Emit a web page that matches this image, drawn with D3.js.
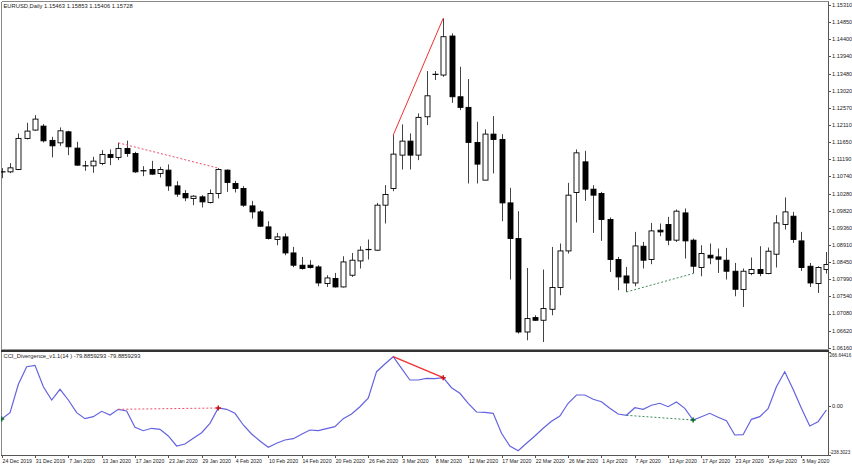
<!DOCTYPE html>
<html><head><meta charset="utf-8">
<script src="https://cdn.jsdelivr.net/npm/d3@7"></script>
<style>body{margin:0;background:#fff}svg{display:block}text{font-family:"Liberation Sans",Arial,sans-serif;fill:#222}</style>
</head><body><svg id="c" width="852" height="467"></svg>
<script>
const open = [
1.10859,1.10859,1.10923,1.11751,1.11973,1.12079,1.11698,1.11633,1.11927,1.11492,
1.11030,1.11019,1.11083,1.11324,1.11244,1.11484,1.11350,1.10897,1.10923,1.10816,
1.10905,1.10485,1.10282,1.10149,1.10192,1.10042,1.10282,1.10905,1.10549,1.10416,
1.09951,1.09791,1.09391,1.09054,1.09124,1.08696,1.08368,1.08368,1.08323,1.07879,
1.08013,1.07789,1.08101,1.08483,1.08787,1.08769,1.09970,1.10416,1.11305,1.11679,
1.11305,1.12328,1.13460,1.13441,1.14482,1.12862,1.12579,1.11644,1.10638,1.11866,
1.11724,1.10031,1.09081,1.06587,1.06972,1.06900,1.07193,1.07773,1.08750,1.10309,
1.11126,1.10397,1.10282,1.09588,1.08520,1.08082,1.07895,1.08875,1.08520,1.09303,
1.09455,1.09036,1.09764,1.09036,1.08307,1.08635,1.08590,1.08502,1.08208,1.07719,
1.08146,1.08253,1.08146,1.08662,1.09455,1.09676,1.09017,1.08341,1.07879,1.08253];
const high = [
1.10958,1.11091,1.11884,1.12167,1.12373,1.12133,1.11794,1.12045,1.11954,1.11660,
1.11153,1.11260,1.11439,1.11457,1.11633,1.11692,1.11393,1.11011,1.11153,1.10993,
1.11057,1.10611,1.10371,1.10237,1.10237,1.10389,1.10958,1.10923,1.10619,1.10477,
1.10085,1.09837,1.09543,1.09230,1.09214,1.08857,1.08590,1.08502,1.08368,1.08101,
1.08162,1.08608,1.08696,1.08875,1.09054,1.10031,1.10504,1.11839,1.12125,1.11884,
1.12418,1.13548,1.13548,1.14955,1.14554,1.13663,1.13334,1.12194,1.11991,1.12346,
1.11866,1.10432,1.09810,1.08296,1.07033,1.08253,1.08857,1.08947,1.10565,1.11457,
1.11420,1.10504,1.10325,1.09642,1.08590,1.08323,1.09257,1.08990,1.09497,1.09481,
1.09658,1.09855,1.09882,1.09081,1.08902,1.08947,1.08814,1.08830,1.08429,1.08280,
1.08574,1.08875,1.08841,1.09703,1.10176,1.09791,1.09257,1.08429,1.08341,1.08723];
const low = [
1.10691,1.10824,1.10905,1.11724,1.11954,1.11644,1.11244,1.11553,1.11305,1.11019,
1.10886,1.10832,1.11038,1.11038,1.11172,1.11260,1.10832,1.10744,1.10784,1.10710,
1.10352,1.10192,1.10077,1.09970,1.09909,1.10015,1.10149,1.10325,1.10309,1.09925,
1.09615,1.09391,1.09054,1.08902,1.08635,1.08315,1.08253,1.08280,1.07807,1.07789,
1.07773,1.07773,1.08056,1.08280,1.08520,1.08750,1.09481,1.10344,1.10923,1.10923,
1.11172,1.12106,1.13308,1.13396,1.12701,1.12507,1.10549,1.10549,1.10638,1.10816,
1.09543,1.07986,1.06544,1.06366,1.06881,1.06320,1.07033,1.07567,1.08680,1.09508,
1.10085,1.09230,1.09017,1.08189,1.07701,1.07655,1.07807,1.08280,1.08395,1.09142,
1.08902,1.08990,1.08547,1.08146,1.08074,1.08395,1.08162,1.07986,1.07540,1.07255,
1.08101,1.08074,1.08128,1.08307,1.09321,1.08963,1.08216,1.07789,1.07628,1.08146];
const close = [
1.10859,1.10966,1.11751,1.11946,1.12266,1.11687,1.11553,1.11954,1.11527,1.11038,
1.11011,1.11145,1.11324,1.11244,1.11484,1.11350,1.10859,1.10878,1.10798,1.10923,
1.10485,1.10264,1.10165,1.10210,1.10058,1.10282,1.10923,1.10576,1.10416,1.09970,
1.09791,1.09409,1.09081,1.09124,1.08696,1.08368,1.08280,1.08307,1.07895,1.08029,
1.07789,1.08456,1.08502,1.08769,1.08787,1.09970,1.10256,1.11332,1.11679,1.11305,
1.12312,1.12888,1.13460,1.14464,1.12862,1.12579,1.11644,1.11065,1.11866,1.11724,
1.10031,1.09081,1.06587,1.06945,1.06900,1.07212,1.07773,1.08750,1.10237,1.11366,
1.10397,1.10237,1.09588,1.08520,1.08056,1.07895,1.08883,1.08502,1.09284,1.09257,
1.09036,1.09810,1.09017,1.08341,1.08680,1.08563,1.08528,1.08208,1.07727,1.08208,
1.08253,1.08146,1.08742,1.09497,1.09791,1.09054,1.08307,1.07895,1.08307,1.08387];
const cci = [
-61.8,-30.9,108.3,194.6,201.4,96.5,31.3,83.8,31.3,-30.9,
-60.3,-50.5,-24.1,-42.2,-14.3,-22.6,-102.5,-119.2,-107.4,-112.3,
-145.1,-194.2,-184.4,-156.4,-129.0,-82.9,-7.9,-14.3,-33.9,-91.2,
-135.4,-169.7,-200.6,-180.9,-164.8,-158.4,-136.8,-115.7,-119.2,-109.4,
-99.6,-60.3,-37.3,-1.5,39.7,170.1,207.8,243.6,186.7,129.4,
129.4,137.7,135.8,140.6,91.6,64.2,15.2,-27.5,-29.0,-33.9,
-131.9,-194.2,-217.2,-180.9,-145.1,-107.4,-73.1,-47.1,15.2,55.8,
55.8,34.8,23.0,-9.4,-37.3,-43.7,-6.4,-14.3,5.4,15.2,
-1.5,21.5,-9.4,-66.7,-50.5,-33.9,-53.5,-70.2,-140.3,-138.8,
-63.3,-50.5,-11.3,96.5,170.1,83.8,-9.4,-96.1,-75.1,-17.7];
const priceTicks = [1.15310,1.14850,1.14400,1.13940,1.13480,1.13020,1.12570,1.12110,1.11650,1.11190,1.10740,1.10280,1.09820,1.09360,1.08910,1.08450,1.07990,1.07540,1.07080,1.06620,1.06160];
const dateLabels = ["24 Dec 2019","31 Dec 2019","7 Jan 2020","13 Jan 2020","17 Jan 2020","23 Jan 2020","29 Jan 2020","4 Feb 2020","10 Feb 2020","14 Feb 2020","20 Feb 2020","26 Feb 2020","3 Mar 2020","8 Mar 2020","12 Mar 2020","17 Mar 2020","22 Mar 2020","26 Mar 2020","1 Apr 2020","7 Apr 2020","13 Apr 2020","17 Apr 2020","23 Apr 2020","29 Apr 2020","5 May 2020"];
const dateLabelBars = [0,4,8,12,16,20,24,28,32,36,40,44,48,52,56,60,64,68,72,76,80,84,88,92,96];
const cciTicks = [266.6441,0,-238.3023];
const cciTickLabels = ["266.64416","0.00","-238.3023"];
const divFrom = [14,47,75];
const divTo = [26,53,83];
const divKind = ["bear","bear","bull"];
const divDashed = [true,false,true];

const svg = d3.select("#c");
const W=852,H=467, R=828, mainTop=2, mainBot=350, indTop=352, indBot=455;
svg.append("rect").attr("width",W).attr("height",H).attr("fill","#fff");

const n = open.length;
const x = d3.scaleLinear().domain([0,n-1]).range([1.7,826.4]);
const y = d3.scaleLinear().domain([1.06160,1.15310]).range([348,5]);
const yc = d3.scaleLinear().domain([-238.3023,266.6441]).range([indBot,indTop]);

const defs = svg.append("defs");
defs.append("clipPath").attr("id","cm").append("rect").attr("x",1).attr("y",mainTop).attr("width",R-1).attr("height",mainBot-mainTop);
defs.append("clipPath").attr("id","ci").append("rect").attr("x",1).attr("y",indTop).attr("width",R-1).attr("height",indBot-indTop);

// frames
const fr = svg.append("g").attr("shape-rendering","crispEdges");
fr.append("line").attr("x1",1.5).attr("x2",R+0.5).attr("y1",1.5).attr("y2",1.5).attr("stroke","#888");
fr.append("line").attr("x1",1.5).attr("x2",1.5).attr("y1",1.5).attr("y2",indBot).attr("stroke","#888");
fr.append("line").attr("x1",R+0.5).attr("x2",R+0.5).attr("y1",1.5).attr("y2",indBot+0.5).attr("stroke","#555");
fr.append("line").attr("x1",1).attr("x2",R+1).attr("y1",349.5).attr("y2",349.5).attr("stroke","#999");
fr.append("line").attr("x1",1).attr("x2",R+1).attr("y1",351).attr("y2",351).attr("stroke","#333").attr("stroke-width",2);
fr.append("line").attr("x1",1).attr("x2",R+1).attr("y1",indBot+0.5).attr("y2",indBot+0.5).attr("stroke","#555");

// candles
const gm = svg.append("g").attr("clip-path","url(#cm)");
const idx = d3.range(n);
const bw = 5;
gm.selectAll("line.w").data(idx).join("line")
  .attr("x1",i=>Math.round(x(i))+0.5).attr("x2",i=>Math.round(x(i))+0.5)
  .attr("y1",i=>y(high[i])).attr("y2",i=>y(low[i]))
  .attr("stroke","#444").attr("stroke-width",1);
gm.selectAll("rect.b").data(idx.filter(i=>Math.abs(y(open[i])-y(close[i]))>=1.2)).join("rect")
  .attr("x",i=>Math.round(x(i))-2).attr("width",bw)
  .attr("y",i=>Math.min(y(open[i]),y(close[i]))).attr("height",i=>Math.abs(y(open[i])-y(close[i])))
  .attr("fill",i=>close[i]>=open[i]?"#fff":"#000").attr("stroke","#000").attr("stroke-width",0.9);
gm.selectAll("line.d").data(idx.filter(i=>Math.abs(y(open[i])-y(close[i]))<1.2)).join("line")
  .attr("x1",i=>Math.round(x(i))-2.5).attr("x2",i=>Math.round(x(i))+3.5)
  .attr("y1",i=>y((open[i]+close[i])/2)).attr("y2",i=>y((open[i]+close[i])/2))
  .attr("stroke","#000").attr("stroke-width",1.2);

// divergence lines on price
divFrom.forEach((f,k)=>{
  const t=divTo[k], bear=divKind[k]==="bear";
  const pf = bear?high[f]:low[f], pt = bear?high[t]:low[t];
  const col = bear?(divDashed[k]?"#e8506a":"#f03030"):"#3c8c5a";
  gm.append("line").attr("x1",x(f)).attr("y1",y(pf)).attr("x2",x(t)).attr("y2",y(pt))
    .attr("stroke",col).attr("stroke-width",1).attr("stroke-dasharray",divDashed[k]?"2,2":null);
});

// price axis
const ga = svg.append("g");
ga.selectAll("line").data(priceTicks).join("line").attr("x1",R).attr("x2",R+3)
  .attr("y1",d=>Math.round(y(d))+0.5).attr("y2",d=>Math.round(y(d))+0.5).attr("stroke","#555");
ga.selectAll("text").data(priceTicks).join("text").attr("x",R+4).attr("y",d=>y(d)).attr("dy","0.35em")
  .attr("font-size",5.6).text(d=>d.toFixed(5));

svg.append("text").attr("x",3.5).attr("y",8.2).attr("font-size",5.8).text("EURUSD,Daily  1.15463 1.15853 1.15406 1.15728");

// CCI pane
const gi = svg.append("g").attr("clip-path","url(#ci)");
gi.append("path").datum(idx).attr("fill","none").attr("stroke","#6363e0").attr("stroke-width",1.2)
  .attr("d",d3.line().x(i=>x(i)).y(i=>yc(cci[i])));
divFrom.forEach((f,k)=>{
  const t=divTo[k], bear=divKind[k]==="bear";
  const col = bear?(divDashed[k]?"#e8506a":"#f03030"):"#3c8c5a";
  gi.append("line").attr("x1",x(f)).attr("y1",yc(cci[f])).attr("x2",x(t)).attr("y2",yc(cci[t]))
    .attr("stroke",col).attr("stroke-width",divDashed[k]?1:1.3).attr("stroke-dasharray",divDashed[k]?"2,2":null);
  const mc = bear?"#d01010":"#0a6a2a";
  const mx=x(t), my=yc(cci[t]);
  gi.append("path").attr("d",`M${mx-2.5},${my}H${mx+2.5}M${mx},${my-2.5}V${my+2.5}`).attr("stroke",mc).attr("stroke-width",1.5);
});
gi.append("path").attr("d",`M${x(0)-2.5},${yc(cci[0])}H${x(0)+2.5}M${x(0)},${yc(cci[0])-2.5}V${yc(cci[0])+2.5}`).attr("stroke","#0a6a2a").attr("stroke-width",1.5);

svg.append("text").attr("x",3.5).attr("y",357.8).attr("font-size",5.8).text("CCI_Divergence_v1.1(14 ) -79.8859293 -79.8859293");

const gca = svg.append("g");
gca.selectAll("line").data(cciTicks).join("line").attr("x1",R).attr("x2",R+3)
  .attr("y1",d=>Math.round(yc(d))+0.5).attr("y2",d=>Math.round(yc(d))+0.5).attr("stroke","#555");
gca.selectAll("text").data(cciTicks).join("text").attr("x",(d,i)=>i===1?R+4:R+1.5)
  .attr("y",(d,i)=>i===0?355:(i===2?452.5:yc(d))).attr("dy","0.35em").attr("font-size",(d,i)=>i===1?5.6:4.6)
  .text((d,i)=>cciTickLabels[i]);

// date axis
const gd = svg.append("g");
gd.selectAll("line").data(dateLabelBars).join("line")
  .attr("x1",b=>Math.round(x(b))+0.5).attr("x2",b=>Math.round(x(b))+0.5).attr("y1",indBot).attr("y2",indBot+3).attr("stroke","#555");
gd.selectAll("text").data(dateLabels).join("text")
  .attr("x",(d,i)=>x(dateLabelBars[i])+0.8).attr("y",463).attr("font-size",5.2).text(d=>d);
</script></body></html>
